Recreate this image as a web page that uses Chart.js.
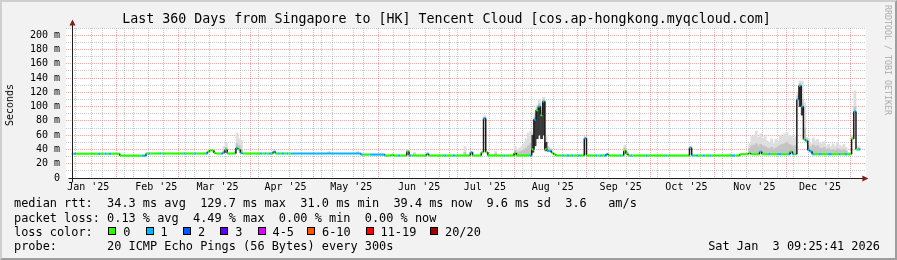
<!DOCTYPE html>
<html>
<head>
<meta charset="utf-8">
<script src="https://cdn.jsdelivr.net/npm/chart.js@4.4.1/dist/chart.umd.min.js"></script>
<style>
  html, body { margin:0; padding:0; }
  body { width:897px; height:260px; background:#f2f2f2; position:relative; overflow:hidden;
         font-family:"DejaVu Sans Mono", monospace; color:#000; }
  #frame { position:absolute; left:0; top:0; width:897px; height:260px; box-sizing:border-box;
           border-style:solid; border-width:2px; border-color:#cfcfcf #9e9e9e #9e9e9e #cfcfcf; pointer-events:none; }
  #c { position:absolute; left:0; top:0; }
  .txt { position:absolute; white-space:pre; }
  #title { left:0; width:893px; text-align:center; top:11.4px; font-size:13.3px; line-height:16px; }
  .leg { left:14px; font-size:11.9px; line-height:14px; }
  #ylab { left:10px; top:105px; font-size:10px; line-height:12px; transform:translate(-50%,-50%) rotate(-90deg); }
  #wm { left:888px; top:60px; font-size:8.3px; line-height:10px; color:#ababab; transform:translate(-50%,-50%) rotate(90deg); }
  .box { position:absolute; width:8px; height:8px; box-sizing:border-box; border:1px solid #000; }
  #stamp { right:17px; font-size:11.9px; line-height:14px; }
</style>
</head>
<body>
<canvas id="c" width="897" height="260"></canvas>
<div id="title" class="txt">Last 360 Days from Singapore to [HK] Tencent Cloud [cos.ap-hongkong.myqcloud.com]</div>
<div id="ylab" class="txt">Seconds</div>
<div id="wm" class="txt">RRDTOOL / TOBI OETIKER</div>
<div id="legend"></div>
<div id="frame"></div>
<script>
// ---------------- data ----------------
// one value per day; day 0 starts Jan 8 2025 09:25:41, day 359 ends Jan 3 2026 09:25:41
const medianRtt = [
  34,34,34,34,34,34,34,34,34,34,34,34,34,34,34,34,34,34,34,34,
  34,34,31.3,31.3,31.3,31.3,31.3,31.3,31.3,31.3,31.3,31.3,31.3,31.3,34.3,34.3,34.3,34.3,34.3,34.3,
  34.3,34.3,34.3,34.3,34.3,34.3,34.3,34.3,34.3,34.3,34.3,34.3,34.3,34.3,34.3,34.3,34.3,34.3,34.3,34.3,
  34.3,34.3,37,39,38.5,35,34.3,34.3,34.3,35.5,40,34.3,34.3,34.3,34.3,42,40,35,34.3,34.3,
  34.3,34.3,34.3,34.3,34.3,34.3,34.3,34.3,34.3,34.3,34.3,34.3,37,34.3,34.3,34.3,34.3,34.3,34.3,34.3,
  34.3,34.3,34.3,34.3,34.3,34.3,34.3,34.3,34.3,34.3,34.3,34.3,34.3,34.3,34.3,34.3,34.3,34.3,34.3,34.3,
  34.3,34.3,34.3,34.3,34.3,34.3,34.3,34.3,34.3,34.3,34.3,34.3,32.8,32.8,32.8,32.8,32.8,32.8,32.8,32.8,
  32.8,32.8,32.8,31.5,31.5,31.5,32.5,31.5,31.5,31.5,31.5,31.5,31.5,37,31.5,31.5,31.5,31.5,31.5,31.5,
  31.5,31.5,34,31.5,31.5,31.5,31.5,31.5,31.5,31.5,31.5,31.5,31.5,31.5,31.5,31.5,31.5,31.5,31.5,31.5,
  31.5,31.5,36,31.5,31.5,31.5,31.5,36,83.5,36,31.5,31.5,31.5,31.5,31.5,31.5,31.5,31.5,31.5,31.5,
  31.5,31.5,35,31.5,31.5,31.5,31.5,31.5,31.5,31.5,40,82,95,100,88,107,40,38,38,35,
  33,31.5,31.5,31.5,31.5,31.5,31.5,31.5,31.5,31.5,31.5,31.5,31.5,31.5,55.5,31.5,31.5,31.5,31.5,31.5,
  31.5,31.5,31.5,31.5,33.5,31.5,31.5,31.5,31.5,31.5,31.5,31.5,38,34,31.5,31.5,31.5,31.5,31.5,31.5,
  31.5,31.5,31.5,31.5,31.5,31.5,31.5,31.5,31.5,31.5,31.5,31.5,31.5,31.5,31.5,31.5,31.5,31.5,31.5,31.5,
  31.5,31.5,42.5,31.5,31.5,31.5,31.5,31.5,31.5,31.5,31.5,31.5,31.5,31.5,31.5,31.5,31.5,31.5,31.5,31.5,
  31.5,31.5,31.5,31.5,31.5,33.3,33.3,33.3,33.3,35,33.3,33.3,33.3,33.3,36.8,33.3,33.3,33.3,33.3,33.3,
  33.3,33.3,33.3,33.3,33.3,33.3,33.3,33.3,37,33.3,33.3,110,129,100,54,52,39,37,33.3,33.3,
  33.3,33.3,33.3,33.3,33.3,33.3,33.3,33.3,33.3,33.3,33.3,33.3,33.3,33.3,33.3,33.3,55,93,40,40
];
// lost pings (of 20) per day
const lossCount = [
  0,1,0,0,0,0,0,0,0,0,0,0,1,0,0,1,0,1,0,0,
  0,0,0,0,0,0,0,0,0,0,0,0,1,1,0,1,0,0,0,0,
  1,0,0,0,0,0,0,0,0,0,0,1,0,0,0,0,1,0,0,0,
  0,1,0,0,0,0,0,0,1,1,0,0,0,0,0,1,0,1,0,0,
  0,0,0,0,0,0,1,0,1,0,1,0,1,0,1,0,1,0,1,0,
  1,1,1,1,1,1,1,1,1,1,1,1,1,1,1,1,1,1,1,1,
  1,1,1,1,1,1,1,1,1,1,1,1,1,0,0,0,1,1,1,1,
  1,1,1,0,0,0,0,0,0,1,0,0,0,0,1,0,0,0,0,0,
  0,0,1,0,0,0,0,0,0,0,1,0,0,0,1,0,0,0,0,0,
  0,0,1,0,0,0,0,0,1,0,0,0,0,0,0,0,0,1,0,0,
  0,0,0,0,0,0,0,0,0,1,0,1,0,1,0,1,0,1,1,0,
  0,0,0,0,1,0,1,0,1,0,0,1,0,0,1,0,0,0,0,1,
  0,1,0,1,1,0,0,0,0,0,1,0,0,0,0,1,0,0,0,0,
  0,0,1,0,0,0,0,0,0,0,0,1,0,0,0,0,0,0,0,0,
  0,0,1,1,0,1,0,0,1,0,0,1,0,0,0,0,0,0,0,0,
  0,1,1,0,0,0,0,0,0,0,0,0,0,0,1,0,0,0,1,0,
  0,0,1,1,0,0,0,1,0,1,0,1,1,1,0,1,1,1,1,0,
  0,1,0,0,0,1,1,0,0,0,1,0,0,1,0,0,0,1,0,1
];
// smoke (spread of the 20 pings above the median) on days where it is visible
const smokeDays = [69,70,74,75,76,77,117,130,153,156,179,188,193,202,203,204,205,206,207,208,209,210,211,212,213,214,215,216,217,218,234,252,253,282,300,
  309,310,311,312,313,314,315,316,317,318,319,320,321,322,323,324,325,326,327,328,329,330,331,332,333,334,335,
  336,337,338,339,340,341,342,343,344,345,346,347,348,349,350,351,352,353,354,355,356,357,358,359];
const smokeHigh = [44,49,38,63,55,53,37,37,40,36,44,87,37,44,40,42,45,48,55,63,65,65,90,102,110,95,113,60,45,42,58,46,38,44,34,
  48,58,60,66,57,62,55,58,52,50,55,48,54,52,60,58,62,64,60,59,55,58,120,136,135,105,57,
  55,48,56,52,54,50,48,51,45,47,44,48,45,50,46,44,47,43,36,36,60,122,45,44];
const smokeMid = [38,43,36,48,45,40,35.5,35.5,38.5,33.5,36,85,34,39,36,37,38,40,42,45,48,55,85,98,104,92,110,50,42,40,57,42,36,43,33,
  42,45,46,48,44,47,45,44,42,41,43,40,42,44,46,47,48,50,47,46,44,46,115,132,110,70,54,
  45,42,46,44,45,42,41,43,40,41,39,40,39,41,40,39,40,38,34.5,34.5,57,100,42,41];
// dense (dark) smoke bodies
const denseDays = [210,211,212,213,214,215,216,332,333];
const denseLow  = [36,45,55,60,55,60,38,100,88];
const denseHigh = [60,82,95,100,88,107,50,129,100];

// axis tick labels
const monthLabels = ["Jan '25","Feb '25","Mar '25","Apr '25","May '25","Jun '25","Jul '25","Aug '25","Sep '25","Oct '25","Nov '25","Dec '25"];
const labelMonthStarts = ['2025-01-01','2025-02-01','2025-03-01','2025-04-01','2025-05-01','2025-06-01','2025-07-01','2025-08-01','2025-09-01','2025-10-01','2025-11-01','2025-12-01'];
const majorGridDates = ['2025-02-01','2025-03-01','2025-04-01','2025-05-01','2025-06-01','2025-07-01','2025-08-01','2025-09-01','2025-10-01','2025-11-01','2025-12-01','2026-01-01'];
const firstWeekLine = '2025-01-12';

// legend
const lossColors = ['#26ff00','#00b8ff','#0059ff','#5e00ff','#dd00ff','#ff5500','#ff0000','#a10000'];
const lossLabels = ['0','1','2','3','4-5','6-10','11-19','20/20'];
const lossBoxX   = [108.3,145.6,182.9,220.2,257.5,307,365.5,430];
const legendLines = [
  'median rtt:  34.3 ms avg  129.7 ms max  31.0 ms min  39.4 ms now  9.6 ms sd  3.6   am/s',
  'packet loss: 0.13 % avg  4.49 % max  0.00 % min  0.00 % now',
  'loss color:',
  'probe:       20 ICMP Echo Pings (56 Bytes) every 300s'
];
const stampText = 'Sat Jan  3 09:25:41 2026';

// ---------------- html legend ----------------
const legendEl = document.getElementById('legend');
const lineTops = [196.4, 210.6, 224.7, 238.9];
legendLines.forEach((t,i) => {
  const d = document.createElement('div');
  d.className = 'txt leg'; d.style.top = lineTops[i] + 'px'; d.textContent = t;
  legendEl.appendChild(d);
});
lossLabels.forEach((lab,i) => {
  const b = document.createElement('div');
  b.className = 'box'; b.style.left = lossBoxX[i] + 'px'; b.style.top = '227px'; b.style.background = lossColors[i];
  legendEl.appendChild(b);
  const t = document.createElement('div');
  t.className = 'txt leg'; t.style.left = (lossBoxX[i] + 15) + 'px'; t.style.top = lineTops[2] + 'px'; t.textContent = lab;
  legendEl.appendChild(t);
});
const st = document.createElement('div');
st.className = 'txt'; st.id = 'stamp'; st.style.top = lineTops[3] + 'px'; st.textContent = stampText;
legendEl.appendChild(st);

// ---------------- chart ----------------
const START = Date.UTC(2025,0,8,9,25,41);
const DAY = 86400000;
const dayOf = s => (Date.parse(s + 'T00:00:00Z') - START) / DAY;

const tickInfo = new Map();
const key = v => v.toFixed(4);
function addTick(v, grid, label) {
  if (v < 0 || v > 360) return;
  const k = key(v);
  const o = tickInfo.get(k) || { value: v, grid: null, label: '' };
  if (grid && o.grid !== 'major') o.grid = grid;
  if (label) o.label = label;
  tickInfo.set(k, o);
}
for (let t = dayOf(firstWeekLine); t <= 360; t += 7) addTick(t, 'minor', '');
majorGridDates.forEach(s => addTick(dayOf(s), 'major', ''));
labelMonthStarts.forEach((s,i) => addTick(dayOf(s) + 15, null, monthLabels[i]));
const xTicks = [...tickInfo.values()].sort((a,b) => a.value - b.value);

const MINOR = 'rgba(143,143,143,0.5)';
const MAJOR = 'rgba(222,79,79,0.5)';
const DARK = '#1c1c1c';
const bucket = n => n <= 0 ? 0 : n === 1 ? 1 : n === 2 ? 2 : n === 3 ? 3 : n <= 5 ? 4 : n <= 10 ? 5 : n <= 19 ? 6 : 7;

const medPts = [];
medianRtt.forEach((v,d) => { medPts.push({x:d, y:v}); medPts.push({x:d+1, y:v}); });
const smokeLightPts = smokeDays.map((d,i) => ({x:d+0.5, y:[medianRtt[d], smokeHigh[i]]}));
const smokeMidPts = smokeDays.map((d,i) => ({x:d+0.5, y:[medianRtt[d], smokeMid[i]]}));
const densePts = denseDays.map((d,i) => ({x:d+0.5, y:[denseLow[i], denseHigh[i]]}));

const isStep = c => c.p0.x === c.p1.x && Math.abs(c.p0.y - c.p1.y) > 0.01;

const bg = {
  id:'canvasBg',
  beforeDraw(chart) {
    const {ctx, chartArea:a} = chart;
    ctx.save(); ctx.fillStyle = '#ffffff';
    ctx.fillRect(a.left, a.top, a.right - a.left, a.bottom - a.top);
    ctx.restore();
  }
};
const axes = {
  id:'rrdAxes',
  afterDraw(chart) {
    const {ctx, scales:{x, y}} = chart;
    const x0 = Math.round(x.getPixelForValue(0)) + 0.5;
    const x1 = x.getPixelForValue(360);
    const y0 = Math.round(y.getPixelForValue(0)) + 0.5;
    const y1 = y.getPixelForValue(210);
    ctx.save();
    ctx.strokeStyle = '#1f1f1f'; ctx.lineWidth = 1;
    ctx.beginPath(); ctx.moveTo(x0 - 4, y0); ctx.lineTo(x1 + 4, y0); ctx.stroke();
    ctx.beginPath(); ctx.moveTo(x0, y0 + 4); ctx.lineTo(x0, y1 - 4); ctx.stroke();
    ctx.fillStyle = '#7f1f1f';
    ctx.beginPath(); ctx.moveTo(x1 + 2, y0 - 3); ctx.lineTo(x1 + 8, y0); ctx.lineTo(x1 + 2, y0 + 3); ctx.closePath(); ctx.fill();
    ctx.beginPath(); ctx.moveTo(x0 - 3, y1 - 2.5); ctx.lineTo(x0, y1 - 8.5); ctx.lineTo(x0 + 3, y1 - 2.5); ctx.closePath(); ctx.fill();
    ctx.restore();
  }
};

Chart.defaults.font.family = '"DejaVu Sans Mono", monospace';
Chart.defaults.font.size = 10;
Chart.defaults.color = '#000';

new Chart(document.getElementById('c'), {
  data: {
    datasets: [
      { type:'line', label:'median', data: medPts, order:0, pointRadius:0, borderWidth:2.2, tension:0,
        borderColor: lossColors[0],
        segment: {
          borderColor: c => isStep(c) ? DARK : lossColors[bucket(lossCount[Math.min(359, Math.floor(c.p0DataIndex/2))])],
          borderWidth: c => isStep(c) ? 1.5 : 2.2
        } },
      { type:'bar', label:'dense', data: densePts, order:1, backgroundColor:'#3a3a3a', grouped:false, barPercentage:1, categoryPercentage:1 },
      { type:'bar', label:'smokeMid', data: smokeMidPts, order:2, backgroundColor:'#c4c4c4', grouped:false, barPercentage:1, categoryPercentage:1 },
      { type:'bar', label:'smoke', data: smokeLightPts, order:3, backgroundColor:'#dedede', grouped:false, barPercentage:1, categoryPercentage:1 }
    ]
  },
  options: {
    responsive:false, animation:false, events:[],
    layout: { padding: { left:0, top:28, right:31, bottom:0 } },
    plugins: { legend:{display:false}, tooltip:{enabled:false}, title:{display:false} },
    scales: {
      x: {
        type:'linear', min:0, max:360,
        afterBuildTicks: s => { s.ticks = xTicks.map(t => ({value:t.value})); },
        afterFit: s => { s.height = 82; },
        ticks: { autoSkip:false, maxRotation:0, minRotation:0, padding:3,
                 callback: v => { const o = tickInfo.get(key(v)); return o ? o.label : ''; } },
        grid: { drawTicks:false, lineWidth:1,
                color: c => { const o = c.tick && tickInfo.get(key(c.tick.value)); return !o || !o.grid ? 'rgba(0,0,0,0)' : (o.grid === 'major' ? MAJOR : MINOR); } },
        border: { display:false, dash:[1,1] }
      },
      y: {
        type:'linear', min:0, max:210,
        afterFit: s => { s.width = 66; },
        ticks: { stepSize:10, autoSkip:false, padding:6,
                 callback: v => v % 20 === 0 ? (v === 0 ? '0' : v + ' m') : '' },
        grid: { drawTicks:false, lineWidth:1,
                color: c => { const v = c.tick ? c.tick.value : 0; return v === 0 ? 'rgba(0,0,0,0)' : (v % 20 === 0 ? MAJOR : MINOR); } },
        border: { display:false, dash:[1,1] }
      }
    }
  },
  plugins: [bg, axes]
});
</script>
</body>
</html>
